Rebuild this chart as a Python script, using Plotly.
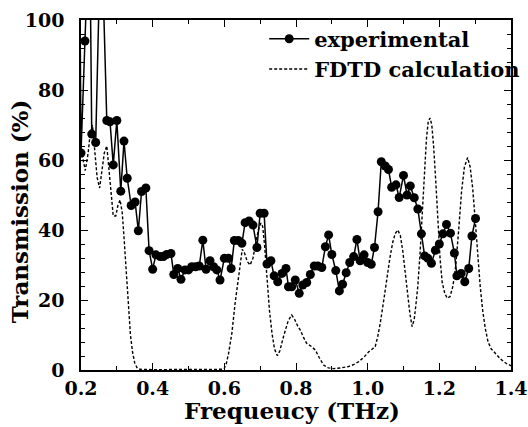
import plotly.graph_objects as go

# ---- experimental data (THz, %) ----
freq_exp = [0.195, 0.200, 0.211, 0.224, 0.230, 0.241, 0.256, 0.272, 0.281, 0.290, 0.300,
            0.311, 0.320, 0.329, 0.340, 0.351, 0.360, 0.369, 0.381, 0.390, 0.400,
            0.409, 0.421, 0.430, 0.439, 0.451, 0.459, 0.470, 0.479, 0.490, 0.500,
            0.509, 0.520, 0.530, 0.540, 0.549, 0.560, 0.570, 0.579, 0.588, 0.600,
            0.612, 0.619, 0.628, 0.639, 0.649, 0.658, 0.669, 0.680, 0.691, 0.700,
            0.711, 0.719, 0.730, 0.739, 0.749, 0.761, 0.772, 0.779, 0.788, 0.798,
            0.809, 0.819, 0.830, 0.840, 0.851, 0.861, 0.872, 0.882, 0.891, 0.900,
            0.911, 0.921, 0.930, 0.940, 0.950, 0.961, 0.970, 0.979, 0.990, 1.000,
            1.010, 1.019, 1.029, 1.038, 1.049, 1.058, 1.067, 1.079, 1.088, 1.100,
            1.110, 1.119, 1.130, 1.140, 1.150, 1.159, 1.168, 1.178, 1.189, 1.200,
            1.210, 1.220, 1.231, 1.242, 1.249, 1.261, 1.271, 1.282, 1.291, 1.301]
trans_exp = [140, 62.0, 94.0, 130, 67.4, 65.0, 130, 71.3, 70.9, 58.6, 71.3,
             51.1, 65.4, 54.8, 47.0, 48.0, 39.8, 51.0, 52.0, 34.1, 28.8,
             32.9, 32.4, 32.4, 33.0, 33.3, 27.3, 29.0, 25.9, 28.6, 28.6,
             29.5, 29.5, 29.7, 37.1, 28.8, 31.2, 29.5, 28.6, 25.7, 31.9,
             31.9, 29.0, 37.0, 37.0, 36.2, 42.1, 42.6, 41.4, 35.0, 44.8,
             44.8, 30.3, 31.2, 26.9, 25.2, 27.6, 29.0, 23.8, 23.8, 25.7,
             21.9, 24.3, 25.0, 27.3, 29.7, 29.7, 29.3, 35.2, 38.6, 33.0,
             28.4, 22.6, 24.5, 27.8, 30.7, 32.4, 37.3, 31.2, 32.9, 30.7,
             30.2, 35.0, 45.2, 59.5, 58.3, 57.3, 52.2, 52.9, 49.3, 55.6,
             50.0, 52.6, 49.2, 46.0, 38.9, 32.6, 31.9, 30.5, 34.2, 36.0,
             38.9, 41.6, 39.1, 33.4, 26.9, 27.6, 25.2, 29.0, 38.3, 43.3]

# ---- FDTD calculation (THz, %) ----
freq_fdtd = [0.200, 0.206, 0.212, 0.220, 0.226, 0.232, 0.238, 0.245, 0.252, 0.258,
             0.265, 0.272, 0.278, 0.284, 0.290, 0.297, 0.303, 0.309, 0.315, 0.320,
             0.326, 0.332, 0.338, 0.344, 0.350, 0.357, 0.365, 0.400, 0.450, 0.500,
             0.550, 0.595, 0.600, 0.606, 0.612, 0.621, 0.630, 0.639, 0.645, 0.650,
             0.656, 0.664, 0.672, 0.680, 0.688, 0.695, 0.702, 0.707, 0.712, 0.719,
             0.726, 0.733, 0.740, 0.748, 0.755, 0.765, 0.778, 0.788, 0.796, 0.805,
             0.812, 0.821, 0.830, 0.842, 0.854, 0.865, 0.877, 0.890, 0.905, 0.925,
             0.947, 0.962, 0.975, 0.990, 1.003, 1.013, 1.021, 1.028, 1.035, 1.045,
             1.054, 1.062, 1.070, 1.077, 1.084, 1.091, 1.098, 1.104, 1.110, 1.118,
             1.124, 1.130, 1.135, 1.140, 1.146, 1.152, 1.158, 1.164, 1.169, 1.174,
             1.179, 1.184, 1.190, 1.196, 1.202, 1.208, 1.215, 1.222, 1.230, 1.238,
             1.246, 1.254, 1.262, 1.270, 1.279, 1.286, 1.293, 1.300, 1.307, 1.314,
             1.321, 1.328, 1.336, 1.345, 1.356, 1.370, 1.385, 1.400]
trans_fdtd = [63.0, 60.0, 57.0, 62.0, 68.0, 70.0, 64.0, 55.0, 52.0, 56.0,
              62.0, 64.0, 58.0, 50.0, 44.0, 44.0, 47.0, 48.6, 45.0, 38.0,
              28.0, 18.0, 10.0, 5.0, 2.0, 0.5, 0.2, 0.1, 0.1, 0.1,
              0.1, 0.2, 0.5, 2.0, 4.8, 10.5, 19.0, 26.7, 32.0, 34.5,
              33.5, 31.0, 30.0, 32.0, 36.5, 40.0, 42.0, 41.0, 36.0, 26.7,
              17.0, 10.5, 6.0, 4.1, 5.5, 9.5, 14.0, 15.7, 14.5, 12.5,
              11.4, 9.3, 7.6, 6.8, 5.7, 3.5, 1.4, 0.6, 0.4, 0.6,
              1.0, 1.6, 2.4, 3.7, 5.2, 6.0, 6.7, 9.5, 13.3, 20.0,
              26.5, 32.0, 36.5, 39.0, 40.0, 38.5, 34.0, 28.5, 23.0, 16.0,
              12.4, 14.5, 19.0, 24.0, 33.0, 45.0, 57.0, 66.0, 71.0, 72.0,
              70.0, 64.0, 54.0, 43.0, 32.0, 25.0, 22.0, 20.5, 21.0, 24.0,
              30.0, 40.0, 51.0, 58.0, 60.7, 58.0, 52.0, 43.0, 33.0, 24.0,
              17.0, 12.0, 8.0, 6.0, 4.8, 3.2, 2.0, 1.2]

x_ticks = [0.2, 0.4, 0.6, 0.8, 1.0, 1.2, 1.4]
x_tick_labels = ["0.2", "0.4", "0.6", "0.8", "1.0", "1.2", "1.4"]
y_ticks = [0, 20, 40, 60, 80, 100]
y_tick_labels = ["0", "20", "40", "60", "80", "100"]
x_title = "Frequeucy (THz)"
y_title = "Transmission (%)"

FONT = "DejaVu Serif"

fig = go.Figure()
fig.add_trace(go.Scatter(
    x=freq_exp, y=trans_exp, mode="lines+markers", name="experimental",
    line=dict(color="black", width=1.5),
    marker=dict(symbol="circle", size=9, color="black"),
    cliponaxis=True,
))
fig.add_trace(go.Scatter(
    x=freq_fdtd, y=trans_fdtd, mode="lines", name="FDTD calculation",
    line=dict(color="black", width=1.4, dash="3px,2px"),
))

axis_common = dict(
    showline=True, linecolor="black", linewidth=1.6, mirror="ticks",
    ticks="inside", ticklen=7, tickwidth=1.4, tickcolor="black",
    showgrid=False, zeroline=False, automargin=False,
    tickfont=dict(family=FONT, size=19, color="black", weight="bold"),
)

fig.update_xaxes(
    range=[0.2, 1.4], tickvals=x_ticks, ticktext=x_tick_labels,
    minor=dict(dtick=0.1, ticks="inside", ticklen=4, tickwidth=1.2, tickcolor="black", showgrid=False),
    ticklabelstandoff=0,
    **axis_common,
)
fig.update_yaxes(
    range=[0, 100], tickvals=y_ticks, ticktext=y_tick_labels,
    minor=dict(dtick=4, ticks="inside", ticklen=4, tickwidth=1.2, tickcolor="black", showgrid=False),
    ticklabelstandoff=11,
    **axis_common,
)

fig.add_annotation(
    text=x_title, xref="paper", yref="paper", x=0.49, y=-0.117,
    xanchor="center", yanchor="middle", showarrow=False,
    font=dict(family=FONT, size=23, color="black", weight="bold"),
)
fig.add_annotation(
    text=y_title, xref="paper", yref="paper", x=-0.144, y=0.454,
    xanchor="center", yanchor="middle", showarrow=False, textangle=-90,
    font=dict(family=FONT, size=23, color="black", weight="bold"),
)

fig.update_layout(
    width=528, height=427,
    margin=dict(l=81, r=17, t=20, b=57, autoexpand=False),
    paper_bgcolor="white", plot_bgcolor="white",
    showlegend=True,
    legend=dict(
        x=0.426, y=1.004, xanchor="left", yanchor="top",
        bgcolor="rgba(0,0,0,0)", borderwidth=0,
        font=dict(family=FONT, size=21, color="black", weight="bold"),
        itemwidth=40, tracegroupgap=0,
    ),
)

# remove the browser's default 8px page margin so the 528x427 figure fills the window
fig.write_html("out.html", config={"displayModeBar": False},
               post_script="document.body.style.margin='0';")
